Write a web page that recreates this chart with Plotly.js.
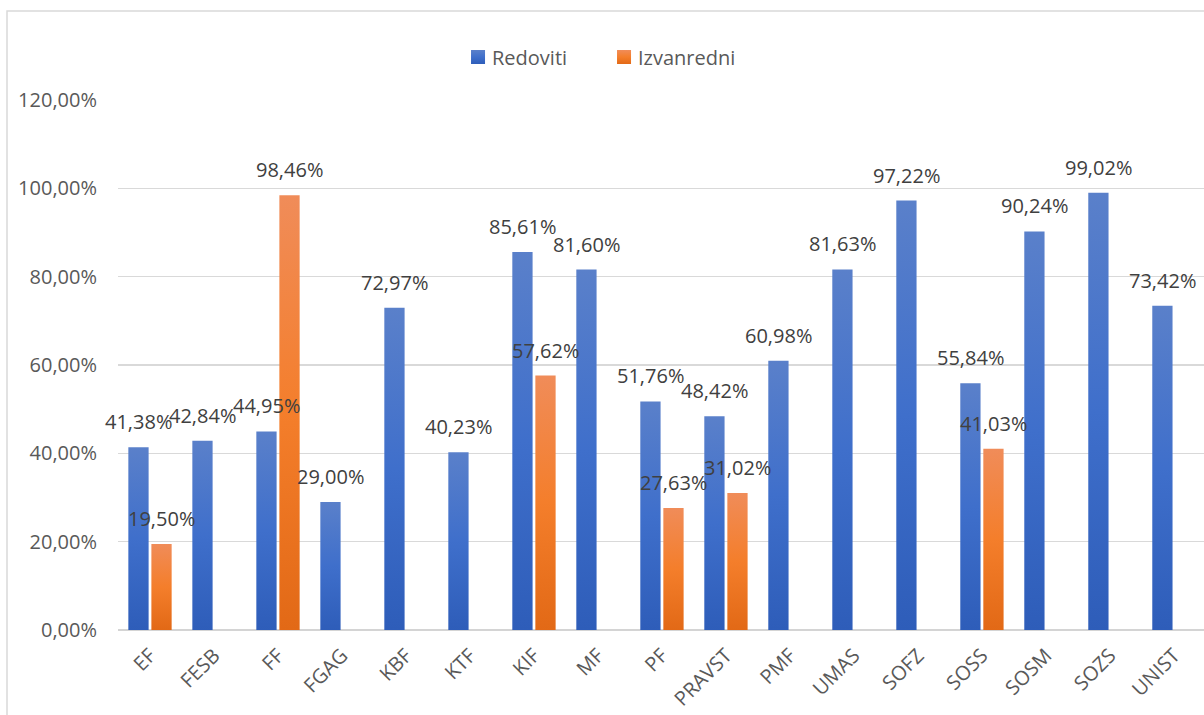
<!DOCTYPE html>
<html>
<head>
<meta charset="utf-8">
<script src="https://cdn.plot.ly/plotly-3.0.1.min.js"></script>
<style>
html,body{margin:0;padding:0;background:#fff;overflow:hidden;}
#chart{width:1204px;height:715px;}
</style>
</head>
<body>
<div id="chart"></div>
<script>
const categories = ['EF','FESB','FF','FGAG','KBF','KTF','KIF','MF','PF','PRAVST','PMF','UMAS','SOFZ','SOSS','SOSM','SOZS','UNIST'];
const redoviti = [41.38,42.84,44.95,29.00,72.97,40.23,85.61,81.60,51.76,48.42,60.98,81.63,97.22,55.84,90.24,99.02,73.42];
const izvanredni = [19.50,null,98.46,null,null,null,57.62,null,27.63,31.02,null,null,null,41.03,null,null,null];
const seriesNames = ['Redoviti','Izvanredni'];
const yTickVals = [0,20,40,60,80,100,120];
const yTickText = ['0,00%','20,00%','40,00%','60,00%','80,00%','100,00%','120,00%'];

const FONT = 'Open Sans, Liberation Sans, Arial, sans-serif';
const fmt = v => v.toFixed(2).replace('.', ',') + '%';

const traces = [
  {type:'bar', name:seriesNames[0], x:categories, y:redoviti,
   marker:{color:'#3F6CC6', line:{width:0}}, hoverinfo:'skip'},
  {type:'bar', name:seriesNames[1], x:categories, y:izvanredni,
   marker:{color:'#F07A2C', line:{width:0}}, hoverinfo:'skip'}
];

// data labels from the series values
const annotations = [];
const off = 11.8;
[redoviti, izvanredni].forEach((arr, si) => {
  arr.forEach((v, i) => {
    if (v === null) return;
    annotations.push({
      x: categories[i], y: v, xref:'x', yref:'y',
      text: fmt(v), showarrow:false,
      xanchor:'center', yanchor:'bottom',
      xshift: si === 0 ? -off : off, yshift: 10,
      font:{family:FONT, size:20, color:'#404040'}
    });
  });
});

const layout = {
  width:1204, height:715,
  margin:{l:118, r:0, t:100, b:85},
  paper_bgcolor:'#fff', plot_bgcolor:'#fff',
  barmode:'group', bargap:0.28, bargroupgap:0.12,
  font:{family:FONT, size:20, color:'#595959'},
  showlegend:true,
  legend:{orientation:'h', x:0.3131, xanchor:'left', y:1.081, yanchor:'middle',
          font:{family:FONT, size:20, color:'#595959'},
          entrywidth:101, entrywidthmode:'pixels', bgcolor:'rgba(0,0,0,0)'},
  xaxis:{type:'category', range:[-0.5,16.47], showgrid:false, zeroline:false,
         showline:false, ticks:'', tickangle:-45, ticklabelstandoff:9,
         tickfont:{family:FONT, size:20, color:'#595959'}, fixedrange:true},
  yaxis:{range:[0,120], tickvals:yTickVals, ticktext:yTickText,
         showgrid:true, gridcolor:'#D9D9D9', gridwidth:1.4,
         zeroline:true, zerolinecolor:'#D4D4D4', zerolinewidth:2.5,
         showline:false, ticks:'', ticklabelstandoff:20,
         tickfont:{family:FONT, size:20, color:'#595959'}, fixedrange:true},
  annotations: annotations,
  shapes:[{type:'rect', xref:'paper', yref:'paper', x0:-0.1022, x1:1.2, y0:-0.4, y1:1.168,
           line:{color:'#D9D9D9', width:1.5}, fillcolor:'rgba(0,0,0,0)', layer:'below'}]
};

Plotly.newPlot('chart', traces, layout, {staticPlot:true, displayModeBar:false}).then(gd => {
  const svg = gd.querySelector('svg.main-svg');
  const ns = 'http://www.w3.org/2000/svg';
  let defs = svg.querySelector('defs');
  if (!defs) { defs = document.createElementNS(ns,'defs'); svg.insertBefore(defs, svg.firstChild); }
  const mk = (id, stops) => {
    const g = document.createElementNS(ns,'linearGradient');
    g.setAttribute('id', id); g.setAttribute('x1','0'); g.setAttribute('y1','0');
    g.setAttribute('x2','0'); g.setAttribute('y2','1');
    stops.forEach(([o,c]) => {
      const s = document.createElementNS(ns,'stop');
      s.setAttribute('offset', o); s.setAttribute('stop-color', c);
      g.appendChild(s);
    });
    defs.appendChild(g);
  };
  mk('gBlue', [['0','#5A80CA'],['0.5','#3F6FCB'],['1','#2E5DB9']]);
  mk('gOrange', [['0','#F08C59'],['0.5','#F47E2B'],['1','#E26916']]);
  const ids = ['gBlue','gOrange'];
  gd.querySelectorAll('.barlayer .trace').forEach((t, i) => {
    t.querySelectorAll('path').forEach(p => { p.style.fill = 'url(#' + ids[i] + ')'; });
  });
  gd.querySelectorAll('.legend .traces').forEach((t, i) => {
    t.querySelectorAll('.legendpoints path').forEach(p => {
      p.style.fill = 'url(#' + ids[i] + ')';
      p.setAttribute('d', 'M7,7H-7V-7H7Z');
    });
    const txt = t.querySelector('text.legendtext');
    if (txt) txt.setAttribute('x', '34');
  });
});
</script>
</body>
</html>
